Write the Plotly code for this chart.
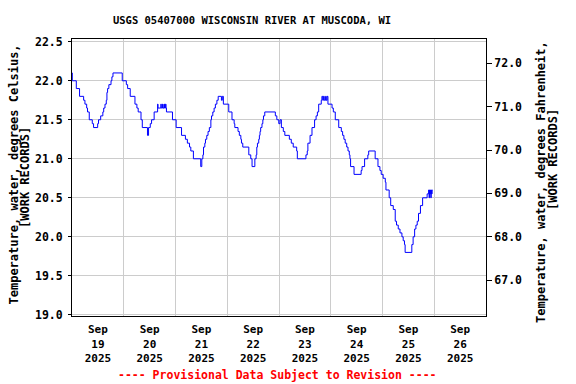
import datetime as dt
import plotly.graph_objects as go

# ---- data (hours after 2025-09-19 00:00, water temperature in deg C) ----
hours = [0, 0.14, 2.0, 3.5, 5.4, 6.0, 6.8, 7.2, 8.0, 9.4, 10.0, 11.9, 12.3, 13.3, 14.3, 14.7,
         15.3, 15.9, 16.2, 16.5, 17.1, 18.1, 18.5, 19.0, 23.3, 25.2, 25.8, 27.0, 29.2, 30.1,
         30.7, 32.0, 32.6, 35.0, 35.5, 36.3, 36.9, 38.1, 39.7, 39.9, 41.2, 41.4, 42.0, 42.2,
         42.7, 42.9, 43.4, 43.6, 43.8, 46.6, 48.3, 50.8, 52.6, 53.5, 54.5, 55.1, 56.3, 59.7,
         60.2, 60.7, 61.0, 61.6, 61.9, 62.5, 63.1, 63.7, 64.4, 64.7, 65.3, 65.9, 66.5, 67.2,
         67.8, 69.3, 69.7, 70.2, 72.7, 74.2, 75.2, 75.5, 77.0, 77.6, 78.3, 78.6, 79.2, 82.0,
         82.9, 83.5, 84.8, 85.4, 85.7, 86.0, 86.6, 86.9, 87.2, 87.5, 88.1, 88.5, 88.8, 89.4,
         94.3, 95.0, 95.9, 96.5, 97.1, 98.0, 98.7, 100.8, 101.7, 102.6, 104.2, 104.5, 108.5,
         109.1, 109.4, 110.4, 111.3, 112.5, 113.2, 113.8, 114.4, 115.6, 115.9, 116.3, 116.6,
         117.0, 117.6, 117.9, 118.3, 118.7, 120.6, 121.2, 122.1, 123.7, 124.9, 125.5, 126.1,
         126.7, 127.4, 128.0, 128.6, 128.9, 129.2, 130.8, 134.1, 134.5, 135.7, 137.2, 137.6,
         140.6, 141.9, 142.8, 143.4, 144.3, 145.3, 145.6, 147.1, 147.8, 149.0, 149.9, 150.5,
         151.3, 152.1, 153.0, 153.6, 154.2, 154.5, 157.6, 158.2, 158.9, 159.5, 160.1, 160.7,
         161.6, 162.6, 164.7, 165.4, 165.6, 165.8, 166.0, 166.2, 166.4, 166.6, 166.8, 167.0,
         167.2]
temps = [22.1, 22.0, 21.9, 21.8, 21.75, 21.7, 21.65, 21.6, 21.5, 21.45, 21.4, 21.45, 21.5, 21.55, 21.6, 21.65,
         21.7, 21.75, 21.85, 21.9, 21.95, 22.0, 22.05, 22.1, 22.0, 21.95, 21.9, 21.8, 21.7, 21.65,
         21.6, 21.5, 21.4, 21.3, 21.4, 21.45, 21.5, 21.6, 21.7, 21.65, 21.7, 21.65, 21.7, 21.65,
         21.7, 21.65, 21.7, 21.65, 21.6, 21.5, 21.4, 21.3, 21.25, 21.2, 21.15, 21.1, 21.0, 20.9,
         21.0, 21.05, 21.15, 21.2, 21.25, 21.3, 21.35, 21.4, 21.5, 21.55, 21.6, 21.65, 21.7, 21.75,
         21.8, 21.75, 21.8, 21.7, 21.6, 21.5, 21.45, 21.4, 21.35, 21.3, 21.25, 21.2, 21.15, 21.05,
         21.0, 20.9, 21.0, 21.05, 21.15, 21.2, 21.25, 21.3, 21.35, 21.4, 21.45, 21.5, 21.55, 21.6,
         21.55, 21.5, 21.45, 21.5, 21.4, 21.35, 21.3, 21.25, 21.2, 21.15, 21.1, 21.0, 21.05,
         21.1, 21.2, 21.3, 21.4, 21.5, 21.55, 21.6, 21.7, 21.75, 21.8, 21.75, 21.8,
         21.75, 21.8, 21.75, 21.8, 21.7, 21.65, 21.6, 21.5, 21.4, 21.35, 21.3, 21.25,
         21.2, 21.15, 21.1, 21.05, 21.0, 20.9, 20.8, 20.85, 20.9, 21.0, 21.05, 21.1,
         21.0, 20.9, 20.85, 20.8, 20.75, 20.7, 20.6, 20.5, 20.4, 20.35, 20.2, 20.15,
         20.1, 20.05, 20.0, 19.95, 19.9, 19.8, 19.9, 20.0, 20.1, 20.15, 20.2, 20.3,
         20.4, 20.5, 20.55, 20.6, 20.5, 20.6, 20.55, 20.6, 20.5, 20.6, 20.55, 20.6,
         20.6]

day_labels = ["Sep<br>19<br>2025", "Sep<br>20<br>2025", "Sep<br>21<br>2025", "Sep<br>22<br>2025",
              "Sep<br>23<br>2025", "Sep<br>24<br>2025", "Sep<br>25<br>2025", "Sep<br>26<br>2025"]
c_ticks = [19.0, 19.5, 20.0, 20.5, 21.0, 21.5, 22.0, 22.5]
f_ticks = [67.0, 68.0, 69.0, 70.0, 71.0, 72.0]

title_text = "USGS 05407000 WISCONSIN RIVER AT MUSCODA, WI"
left_title = ["Temperature, water, degrees Celsius,", "[WORK RECORDS]"]
right_title = ["Temperature, water, degrees Fahrenheit,", "[WORK RECORDS]"]
note_text = "---- Provisional Data Subject to Revision ----"

# ---- build ----
start = dt.datetime(2025, 9, 19)
times = [start + dt.timedelta(hours=h) for h in hours]
tick_pos = [start + dt.timedelta(days=i, hours=12) for i in range(len(day_labels))]

FONT = "DejaVu Sans Mono"
c_lo, c_hi = 18.985, 22.535
W, H = 576, 384
pl, pr, pt, pb = 72, 486, 39, 316

fig = go.Figure()
fig.add_trace(go.Scatter(x=times, y=temps, mode="lines", line=dict(color="#0000ff", width=1, shape="hv"),
                         hoverinfo="skip", showlegend=False))
fig.add_trace(go.Scatter(x=[times[0]], y=[None], yaxis="y2", mode="lines", showlegend=False,
                         hoverinfo="skip"))

fig.update_layout(
    width=W, height=H,
    margin=dict(l=pl, r=W - pr, t=pt, b=H - pb, autoexpand=False),
    paper_bgcolor="white", plot_bgcolor="white",
    font=dict(family=FONT, size=11.5, color="black", weight="bold"),
    title=dict(text=title_text, x=252 / W, xanchor="center", y=1 - 20 / H, yanchor="middle",
               font=dict(family=FONT, size=10.5, color="black", weight="bold")),
    xaxis=dict(range=[start, start + dt.timedelta(days=8)], tickmode="array", tickvals=tick_pos,
               ticktext=day_labels, ticks="", showgrid=False, showline=True, linecolor="black",
               linewidth=1, mirror=True, zeroline=False, automargin=False, ticklabelstandoff=3,
               tickfont=dict(family=FONT, size=11, color="black", weight="bold"),
               minor=dict(tickmode="array", tickvals=[start + dt.timedelta(days=i) for i in range(1, 8)],
                          showgrid=True, gridcolor="#cccccc", gridwidth=1, ticks="")),
    yaxis=dict(range=[c_lo, c_hi], tickmode="array", tickvals=c_ticks,
               ticktext=[f"{v:.1f}" for v in c_ticks], ticks="outside", ticklen=3, tickcolor="black",
               showgrid=True, gridcolor="#cccccc", gridwidth=1, showline=True, linecolor="black",
               linewidth=1, mirror=True, zeroline=False, automargin=False, ticklabelstandoff=3,
               tickfont=dict(family=FONT, size=11.5, color="black", weight="bold")),
    yaxis2=dict(range=[c_lo * 9 / 5 + 32, c_hi * 9 / 5 + 32], overlaying="y", side="right",
                tickmode="array", tickvals=f_ticks, ticktext=[f"{v:.1f}" for v in f_ticks],
                ticks="outside", ticklen=5, tickcolor="black", showgrid=False, zeroline=False,
                showline=False, automargin=False,
                tickfont=dict(family=FONT, size=11.5, color="black", weight="bold")),
)


def to_paper(px, py):
    return (px - pl) / (pr - pl), (pb - py) / (pb - pt)


for txt, px, py in [(left_title[0], 13.5, 175), (left_title[1], 25, 178),
                    (right_title[0], 541, 182), (right_title[1], 553, 160)]:
    x, y = to_paper(px, py)
    fig.add_annotation(text=txt, xref="paper", yref="paper", x=x, y=y, showarrow=False, textangle=-90,
                       xanchor="center", yanchor="middle",
                       font=dict(family=FONT, size=12, color="black", weight="bold"))

x, y = to_paper(277.5, 375)
fig.add_annotation(text=note_text, xref="paper", yref="paper", showarrow=False, x=x, y=y,
                   xanchor="center", yanchor="middle",
                   font=dict(family=FONT, size=11.5, color="#ff0000", weight="bold"))

fig.write_html("out.html", config={"displayModeBar": False},
               post_script="document.body.style.margin='0px';document.body.style.padding='0px';")
